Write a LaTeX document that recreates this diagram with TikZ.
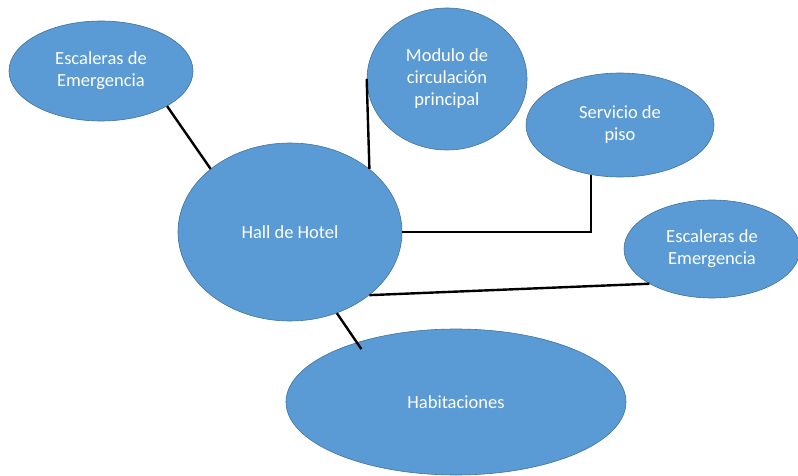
\documentclass[tikz,border=0pt]{standalone}
\usepackage{fontspec}
\setmainfont{Carlito}
\usetikzlibrary{shapes.geometric}
\definecolor{bubblefill}{HTML}{5B9BD5}
\definecolor{bubbleedge}{HTML}{41719C}
\tikzset{
  bubble/.style={ellipse, fill=bubblefill, draw=bubbleedge, line width=0.6pt,
    inner sep=0pt, align=center, text=white,
    font=\fontsize{18.5}{22}\selectfont},
  link/.style={draw=black, line width=2.4pt}
}
\begin{document}
\begin{tikzpicture}[x=1pt, y=-1pt]
  \useasboundingbox (0,0) rectangle (798,476);
  % topic bubbles
  \node[bubble, minimum width=184pt, minimum height=100pt] (escA) at (101,71) {Escaleras de\\Emergencia};
  \node[bubble, minimum width=160pt, minimum height=142pt] (mod) at (447,79) {Modulo de\\circulación\\principal};
  \node[bubble, minimum width=188pt, minimum height=104pt] (serv) at (620,125) {Servicio de\\piso};
  \node[bubble, minimum width=224pt, minimum height=178pt] (hall) at (290,232) {Hall de Hotel};
  \node[bubble, minimum width=176pt, minimum height=98pt] (escB) at (712,249) {Escaleras de\\Emergencia};
  \node[bubble, minimum width=340pt, minimum height=146pt] (hab) at (456,402) {Habitaciones};
  % connectors
  \draw[link] (escA.-28) -- (hall.north west);
  \draw[link] (mod.west) -- (hall.north east);
  \draw[link] (hall.east) -| (serv.-120);
  \draw[link] (hall.south east) -- (escB.209);
  \draw[link, shorten >=-8pt] (hall.-60) -- (hab.149);
\end{tikzpicture}
\end{document}
